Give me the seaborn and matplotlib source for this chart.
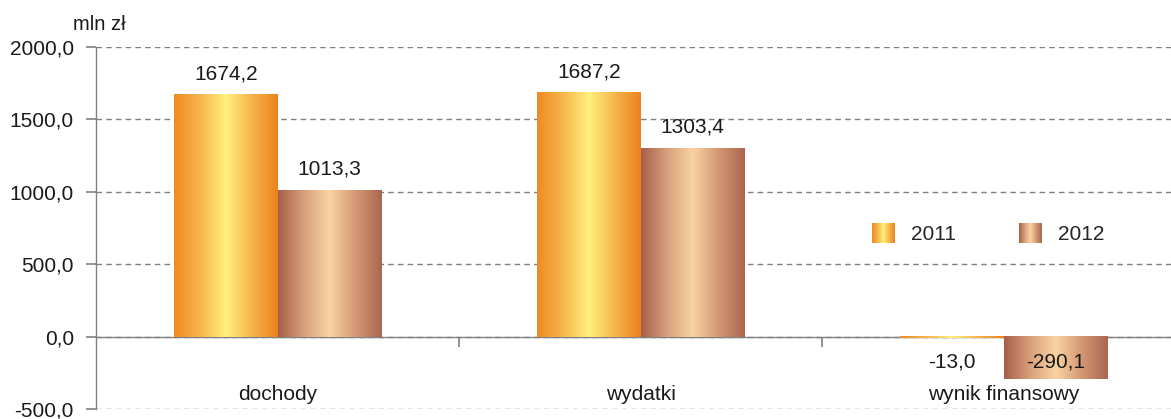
import numpy as np
import pandas as pd
import matplotlib
matplotlib.use('Agg')
import matplotlib.pyplot as plt
import seaborn as sns
from matplotlib.colors import LinearSegmentedColormap
from matplotlib.legend_handler import HandlerBase
from matplotlib.image import BboxImage
from matplotlib.transforms import Bbox, TransformedBbox
from matplotlib.patches import Patch
from matplotlib.ticker import FuncFormatter

# dane
categories = ['dochody', 'wydatki', 'wynik finansowy']
years = ['2011', '2012']
values_2011 = [1674.2, 1687.2, -13.0]
values_2012 = [1013.3, 1303.4, -290.1]
y_ticks = [-500, 0, 500, 1000, 1500, 2000]
unit = 'mln zł'

df = pd.DataFrame({
    'kategoria': categories * 2,
    'rok': [years[0]] * len(categories) + [years[1]] * len(categories),
    'wartosc': values_2011 + values_2012,
})

def fmt(v):
    return f'{v:.1f}'.replace('.', ',')

cmap_2011 = LinearSegmentedColormap.from_list(
    'c2011', ['#ee8a22', '#f6b64c', '#fff07e', '#f6b54c', '#ec821c'])
cmap_2012 = LinearSegmentedColormap.from_list(
    'c2012', ['#a65f49', '#d9a07c', '#f9d3a2', '#d49773', '#aa6650'])
cmaps = [cmap_2011, cmap_2012]
grad = np.tile(np.linspace(0, 1, 256), (4, 1))

sns.set_style('white')
plt.rcParams['font.family'] = ['Liberation Sans', 'DejaVu Sans']
FS = 15
gray = '#808080'

fig = plt.figure(figsize=(11.71, 4.19), dpi=100)
ax = fig.add_axes([96 / 1171, 1 - 409 / 419, 1 - 96 / 1171, (409 - 47) / 419])

sns.barplot(data=df, x='kategoria', y='wartosc', hue='rok', order=categories,
            hue_order=years, width=0.57, palette=['#f3a23a', '#c98a6a'],
            saturation=1, edgecolor='none', legend=False, ax=ax)

# gradient na slupkach + etykiety
for cont, cmap in zip(ax.containers, cmaps):
    for bar in cont:
        x0, y0 = bar.get_x(), bar.get_y()
        w, h = bar.get_width(), bar.get_height()
        bar.set_zorder(2)
        ax.imshow(grad, cmap=cmap, aspect='auto', interpolation='bilinear',
                  extent=[x0, x0 + w, min(y0, y0 + h), max(y0, y0 + h)],
                  zorder=2.1)
        cx = x0 + w / 2
        if h >= 0:
            ax.annotate(fmt(h), (cx, h), xytext=(0, 8), textcoords='offset points',
                        ha='center', va='bottom', fontsize=FS, color='#1a1a1a')
        else:
            ax.annotate(fmt(h), (cx, 0), xytext=(0, -18), textcoords='offset points',
                        ha='center', va='center', fontsize=FS, color='#1a1a1a',
                        zorder=5)

ax.set_xlim(-0.5, 2.46)
ax.set_ylim(-500, 2000)
ax.set_xlabel('')
ax.set_ylabel('')

# osie
ax.spines['top'].set_visible(False)
ax.spines['right'].set_visible(False)
ax.spines['bottom'].set_position(('data', 0))
for s in ['left', 'bottom']:
    ax.spines[s].set_color(gray)
    ax.spines[s].set_linewidth(1.0)
    ax.spines[s].set_zorder(1)

ax.set_xticks([0.5, 1.5])
ax.set_xticklabels([])
ax.set_yticks(y_ticks)
ax.yaxis.set_major_formatter(FuncFormatter(lambda v, p: fmt(v)))
ax.tick_params(axis='both', direction='out', length=7, width=1.2, color=gray,
               labelsize=FS, labelcolor='#1a1a1a', left=True, bottom=True)
ax.tick_params(axis='y', pad=9)
ax.yaxis.grid(True, linestyle=(0, (4, 3)), color=gray, linewidth=1)
ax.xaxis.grid(False)
ax.set_axisbelow(True)

for i, c in enumerate(categories):
    ax.text(i, -400, c, ha='center', va='center', fontsize=FS, color='#1a1a1a')

ax.text(0.003, 1.061, unit, transform=ax.transAxes, ha='center', va='center',
        fontsize=FS - 0.5, color='#1a1a1a', clip_on=False)

# legenda z gradientem
class GradientHandler(HandlerBase):
    def __init__(self, cmap):
        super().__init__()
        self.cmap = cmap

    def create_artists(self, legend, orig_handle, xdescent, ydescent, width,
                       height, fontsize, trans):
        bb = TransformedBbox(Bbox.from_bounds(-xdescent, -ydescent, width, height), trans)
        img = BboxImage(bb, cmap=self.cmap, interpolation='bilinear')
        img.set_data(grad)
        return [img]

handles = [Patch(label=y) for y in years]
ax.legend(handles=handles, labels=years, ncol=2, frameon=False, loc='center',
          bbox_to_anchor=(0.83, 0.486), handlelength=1.1, handleheight=1.1,
          handletextpad=0.8, columnspacing=3.0, fontsize=FS,
          handler_map={handles[0]: GradientHandler(cmap_2011),
                       handles[1]: GradientHandler(cmap_2012)})

fig.savefig('out.png', dpi=100)
